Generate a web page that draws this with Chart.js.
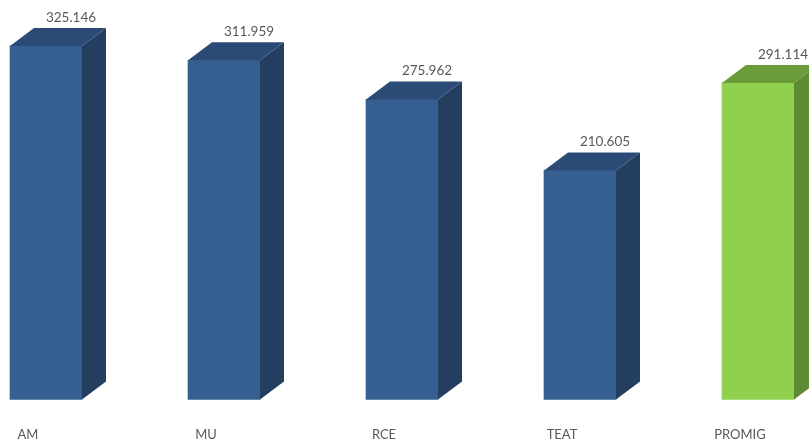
<!DOCTYPE html>
<html>
<head>
<meta charset="utf-8">
<script src="https://cdn.jsdelivr.net/npm/chart.js@4/dist/chart.umd.min.js"></script>
<style>
  html, body { margin: 0; padding: 0; background: #fff; }
  #wrap { width: 809px; height: 439px; }
</style>
</head>
<body>
<div id="wrap"><canvas id="c" width="809" height="439"></canvas></div>
<script>
// ===== DATA =====
const categories = ['AM', 'MU', 'RCE', 'TEAT', 'PROMIG'];
const values = [325.146, 311.959, 275.962, 210.605, 291.114];
const highlight = [false, false, false, false, true];

// ===== COLOURS =====
const blue = { front: '#365F91', side: '#233E5F', top: '#2B4A76' };
const green = { front: '#8FD14F', side: '#5E8A31', top: '#6C9B3A' };
const DX = 24, DY = 18;

// draws side + top faces and the value labels for each bar
const bar3d = {
    id: 'bar3d',
    afterDatasetsDraw(chart) {
        const ctx = chart.ctx;
        const meta = chart.getDatasetMeta(0);
        meta.data.forEach((bar, i) => {
            const c = highlight[i] ? green : blue;
            const half = bar.width / 2;
            const l = bar.x - half, r = bar.x + half, t = bar.y, b = bar.base;
            ctx.save();
            // side
            ctx.fillStyle = c.side;
            ctx.beginPath();
            ctx.moveTo(r, t);
            ctx.lineTo(r + DX, t - DY);
            ctx.lineTo(r + DX, b - DY);
            ctx.lineTo(r, b);
            ctx.closePath();
            ctx.fill();
            // top
            ctx.fillStyle = c.top;
            ctx.beginPath();
            ctx.moveTo(l, t);
            ctx.lineTo(l + DX, t - DY);
            ctx.lineTo(r + DX, t - DY);
            ctx.lineTo(r, t);
            ctx.closePath();
            ctx.fill();
            // value label
            ctx.fillStyle = '#595959';
            ctx.font = '13.5px Lato, "Open Sans", sans-serif';
            ctx.textAlign = 'center';
            ctx.textBaseline = 'bottom';
            ctx.fillText(values[i].toFixed(3), bar.x + DX + 1, t - DY - 4);
            ctx.restore();
        });
    }
};

new Chart(document.getElementById('c'), {
    type: 'bar',
    data: {
        labels: categories,
        datasets: [{
            data: values,
            backgroundColor: highlight.map(h => h ? green.front : blue.front),
            borderWidth: 0,
            barThickness: 72,
            clip: false
        }]
    },
    options: {
        responsive: false,
        animation: false,
        layout: { padding: { left: 46, right: 51, top: 20, bottom: -8 } },
        plugins: { legend: { display: false }, tooltip: { enabled: false } },
        scales: {
            x: {
                offset: false,
                // tick marks are hidden but their length keeps the labels low
                grid: { display: false, drawTicks: true, tickLength: 24 },
                border: { display: false },
                ticks: {
                    color: '#595959',
                    font: { family: 'Lato, "Open Sans", sans-serif', size: 13 },
                    padding: 4,
                    labelOffset: -18,
                    maxRotation: 0
                }
            },
            y: {
                display: false,
                min: 0,
                max: 349
            }
        }
    },
    plugins: [bar3d]
});
</script>
</body>
</html>
